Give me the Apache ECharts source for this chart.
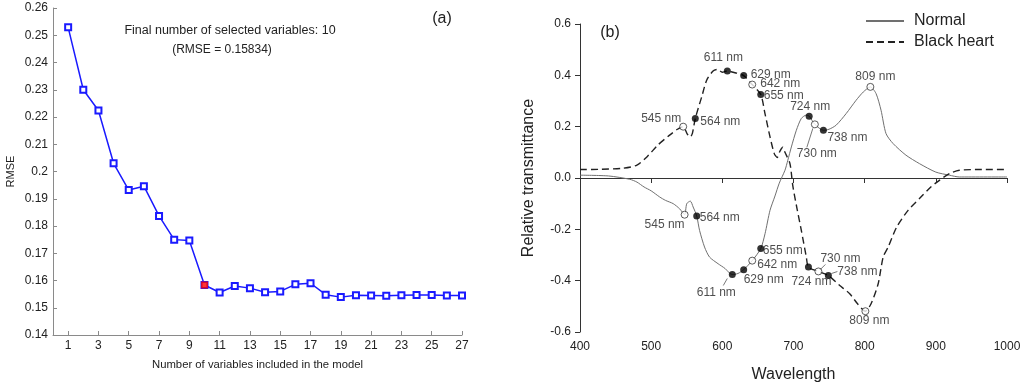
<!DOCTYPE html>
<html><head><meta charset="utf-8">
<script src="https://cdn.jsdelivr.net/npm/echarts@6/dist/echarts.min.js"></script>
<style>html,body{margin:0;padding:0;background:#fff}#c{width:1024px;height:390px}</style>
</head><body><div id="c"></div><script>
// ---------- Panel (a) data ----------
const nVars = [1,2,3,4,5,6,7,8,9,10,11,12,13,14,15,16,17,18,19,20,21,22,23,24,25,26,27];
const rmse = [0.2529,0.2300,0.2224,0.2030,0.1932,0.1946,0.1837,0.1750,0.1747,0.15834,0.1556,0.1580,0.1572,0.1557,0.1560,0.1586,0.1590,0.1548,0.1539,0.1546,0.1545,0.1544,0.1546,0.1547,0.1547,0.1545,0.1545];
const selectedCount = 10;
const xTicksA = [1,3,5,7,9,11,13,15,17,19,21,23,25,27];

// ---------- Panel (b) data ----------
const normalCurve = [[400,0.011],[440,0.008],[470,-0.005],[480,-0.016],[490,-0.035],[500,-0.050],[512,-0.074],[520,-0.087],[531,-0.100],[540,-0.120],[547,-0.143],[550,-0.100],[555,-0.090],[559,-0.113],[564,-0.148],[568,-0.204],[575,-0.269],[582,-0.308],[594,-0.334],[604,-0.353],[610,-0.370],[614,-0.376],[622,-0.372],[630,-0.357],[642,-0.322],[654,-0.275],[660,-0.217],[667,-0.126],[674,-0.070],[680,-0.020],[688,0.030],[692,0.069],[697,0.121],[704,0.186],[711,0.232],[718,0.245],[722,0.241],[730,0.209],[742,0.186],[750,0.190],[760,0.206],[774,0.251],[788,0.303],[798,0.335],[808,0.355],[816,0.329],[823,0.264],[830,0.173],[840,0.134],[858,0.089],[877,0.056],[900,0.023],[919,0.011],[933,0.004],[1000,0.004]];
const blackCurve = [[400,0.033],[430,0.034],[460,0.038],[480,0.050],[495,0.085],[510,0.130],[525,0.165],[537,0.190],[545,0.200],[551,0.170],[555,0.160],[558,0.175],[562,0.232],[571,0.316],[578,0.381],[587,0.417],[593,0.423],[600,0.412],[607,0.417],[618,0.410],[630,0.399],[642,0.364],[654,0.325],[660,0.250],[667,0.160],[673,0.095],[677,0.080],[681,0.105],[685,0.120],[688,0.100],[695,0.056],[699,-0.030],[705,-0.120],[711,-0.204],[718,-0.308],[721,-0.347],[735,-0.364],[749,-0.380],[765,-0.419],[779,-0.451],[790,-0.490],[801,-0.519],[809,-0.490],[819,-0.412],[826,-0.308],[833,-0.269],[845,-0.191],[861,-0.126],[877,-0.080],[893,-0.035],[905,-0.009],[919,0.017],[933,0.030],[960,0.033],[1000,0.033]];

const blackFilled = [[562,0.232],[607,0.417],[630,0.399],[654,0.325],[721,-0.347],[749,-0.380]];
const blackFilledLabels = ['564 nm','611 nm','629 nm','655 nm','724 nm','738 nm'];
const blackOpen = [[545,0.200],[642,0.364],[735,-0.364],[801,-0.519]];
const blackOpenLabels = ['545 nm','642 nm','730 nm','809 nm'];
const normalFilled = [[564,-0.148],[614,-0.376],[630,-0.357],[654,-0.275],[722,0.241],[742,0.186]];
const normalFilledLabels = ['564 nm','611 nm','629 nm','655 nm','724 nm','738 nm'];
const normalOpen = [[547,-0.143],[642,-0.322],[730,0.209],[808,0.355]];
const normalOpenLabels = ['545 nm','642 nm','730 nm','809 nm'];

// label placement (style): [align, dx, dy]
const placeBlack = {'545 nm':['right',-2,-8],'564 nm':['left',5,3],'611 nm':['center',-4,-13],'629 nm':['left',7,-1],'642 nm':['left',8,-1],'655 nm':['left',3,1],'724 nm':['center',3,15],'730 nm':['left',2,-13],'738 nm':['left',9,-4],'809 nm':['center',4,9]};
const placeNormal = {'545 nm':['right',0,10],'564 nm':['left',3,2],'611 nm':['center',-16,18],'629 nm':['left',0,10],'642 nm':['left',5,4],'655 nm':['left',2,2],'724 nm':['center',1,-9],'730 nm':['center',2,29],'738 nm':['left',4,7],'809 nm':['center',5,-10]};

const FONT = '"Liberation Sans", Arial, sans-serif';
function markerData(pts, labels, place){
  return pts.map((p,i)=>{
    const pl = place[labels[i]];
    return {value:p, name:labels[i], label:{show:true, position:'inside', align:pl[0], verticalAlign:'middle', offset:[pl[1],pl[2]], formatter:labels[i], color:'#222', fontSize:12, fontFamily:FONT}};
  });
}

const chart = echarts.init(document.getElementById('c'), null, {renderer:'canvas'});
const axA = {lineStyle:{color:'#8a8a8a', width:1}};
const axB = {lineStyle:{color:'#333', width:1}};
const option = {
  animation:false,
  backgroundColor:'#fff',
  textStyle:{fontFamily:FONT},
  grid:[
    {left:53, top:8, width:409, height:327},
    {left:580, top:24, width:427, height:308}
  ],
  xAxis:[
    {gridIndex:0, type:'value', min:0, max:27,
     axisLine:axA, splitLine:{show:false},
     axisTick:{show:true, inside:true, length:4, customValues:xTicksA, lineStyle:{color:'#8a8a8a'}},
     axisLabel:{customValues:xTicksA, margin:5, fontSize:12, color:'#222', fontFamily:FONT},
     name:'Number of variables included in the model', nameLocation:'middle', nameGap:24,
     nameTextStyle:{fontSize:11.3, color:'#222', fontFamily:FONT}},
    {gridIndex:1, type:'value', min:400, max:1000, interval:100,
     axisLine:axB, splitLine:{show:false},
     axisTick:{show:true, inside:false, length:5, lineStyle:{color:'#333'}},
     axisLabel:{margin:9, fontSize:12, color:'#222', fontFamily:FONT, formatter:v=>String(v)},
     name:'Wavelength', nameLocation:'middle', nameGap:35,
     nameTextStyle:{fontSize:16, color:'#222', fontFamily:FONT}}
  ],
  yAxis:[
    {gridIndex:0, type:'value', min:0.14, max:0.26, interval:0.01,
     axisLine:{show:true, ...axA}, splitLine:{show:false},
     axisTick:{show:true, inside:true, length:4, lineStyle:{color:'#8a8a8a'}},
     axisLabel:{margin:5, fontSize:12, color:'#222', fontFamily:FONT, formatter:v=>String(+v.toFixed(2))},
     name:'RMSE', nameLocation:'middle', nameGap:37, nameRotate:90,
     nameTextStyle:{fontSize:11, color:'#222', fontFamily:FONT}},
    {gridIndex:1, type:'value', min:-0.6, max:0.6, interval:0.2,
     axisLine:{show:true, ...axB}, splitLine:{show:false},
     axisTick:{show:true, inside:false, length:5, lineStyle:{color:'#333'}},
     axisLabel:{margin:9, fontSize:12, color:'#222', fontFamily:FONT, formatter:v=>Math.abs(v)<1e-9?'0.0':v.toFixed(1)},
     name:'Relative transmittance', nameLocation:'middle', nameGap:43, nameRotate:90,
     nameTextStyle:{fontSize:16, color:'#222', fontFamily:FONT}}
  ],
  legend:{orient:'vertical', left:865, top:13, padding:0, itemWidth:38, itemHeight:16, itemGap:5,
    itemStyle:{opacity:0},
    data:['Normal','Black heart'], textStyle:{fontSize:16, color:'#222', fontFamily:FONT, padding:[0,0,0,5]}},
  graphic:[
    {type:'text', x:230, y:31, style:{text:'Final number of selected variables: ' + selectedCount, fill:'#222', font:'12.5px '+FONT, textAlign:'center', textVerticalAlign:'middle'}},
    {type:'text', x:222, y:50, style:{text:'(RMSE = ' + rmse[selectedCount-1].toFixed(5) + ')', fill:'#222', font:'12px '+FONT, textAlign:'center', textVerticalAlign:'middle'}},
    {type:'text', x:442, y:19, style:{text:'(a)', fill:'#222', font:'16px '+FONT, textAlign:'center', textVerticalAlign:'middle'}},
    {type:'text', x:610, y:33, style:{text:'(b)', fill:'#222', font:'16px '+FONT, textAlign:'center', textVerticalAlign:'middle'}}
  ],
  series:[
    {type:'line', xAxisIndex:0, yAxisIndex:0, data:nVars.map((n,i)=>[n,rmse[i]]),
     symbol:'emptyRect', symbolSize:6, lineStyle:{color:'#1a1aff', width:1.5}, itemStyle:{color:'#1a1aff', borderWidth:1}, z:3},
    {type:'scatter', xAxisIndex:0, yAxisIndex:0, data:[[nVars[selectedCount-1], rmse[selectedCount-1]]],
     symbol:'rect', symbolSize:7, itemStyle:{color:'#ff0000'}, z:5},
    {name:'Normal', type:'line', xAxisIndex:1, yAxisIndex:1, data:normalCurve, symbol:'none', smooth:0.25,
     lineStyle:{color:'#707070', width:1}, itemStyle:{color:'#707070'}},
    {name:'Black heart', type:'line', xAxisIndex:1, yAxisIndex:1, data:blackCurve, symbol:'none', smooth:0.25,
     lineStyle:{color:'#222', width:1.4, type:[7,4]}, itemStyle:{color:'#222'}},
    {type:'scatter', xAxisIndex:1, yAxisIndex:1, data:markerData(blackFilled, blackFilledLabels, placeBlack),
     symbol:'circle', symbolSize:7, itemStyle:{color:'#000'}, z:5},
    {type:'scatter', xAxisIndex:1, yAxisIndex:1, data:markerData(blackOpen, blackOpenLabels, placeBlack),
     symbol:'circle', symbolSize:7, itemStyle:{color:'#fff', borderColor:'#333', borderWidth:1}, z:5},
    {type:'scatter', xAxisIndex:1, yAxisIndex:1, data:markerData(normalFilled, normalFilledLabels, placeNormal),
     symbol:'circle', symbolSize:7, itemStyle:{color:'#000'}, z:5},
    {type:'scatter', xAxisIndex:1, yAxisIndex:1, data:markerData(normalOpen, normalOpenLabels, placeNormal),
     symbol:'circle', symbolSize:7, itemStyle:{color:'#fff', borderColor:'#333', borderWidth:1}, z:5}
  ]
};
chart.setOption(option);

// leader lines from markers toward their labels (relative offsets are styling)
const leaders = [
  [blackOpen[blackOpenLabels.indexOf('730 nm')], [2,-2], [7,-7]],
  [blackFilled[blackFilledLabels.indexOf('738 nm')], [3,-2], [9,-4]],
  [normalFilled[normalFilledLabels.indexOf('611 nm')], [-5,4], [-9,11]],
  [normalOpen[normalOpenLabels.indexOf('730 nm')], [-2,4], [-8,23]]
];
const extra = leaders.map(l=>{
  const p = chart.convertToPixel({xAxisIndex:1, yAxisIndex:1}, l[0]);
  return {type:'line', shape:{x1:p[0]+l[1][0], y1:p[1]+l[1][1], x2:p[0]+l[2][0], y2:p[1]+l[2][1]},
    style:{stroke:'#555', lineWidth:0.8}, z:10};
});
chart.setOption({graphic: option.graphic.concat(extra)});
</script></body></html>
